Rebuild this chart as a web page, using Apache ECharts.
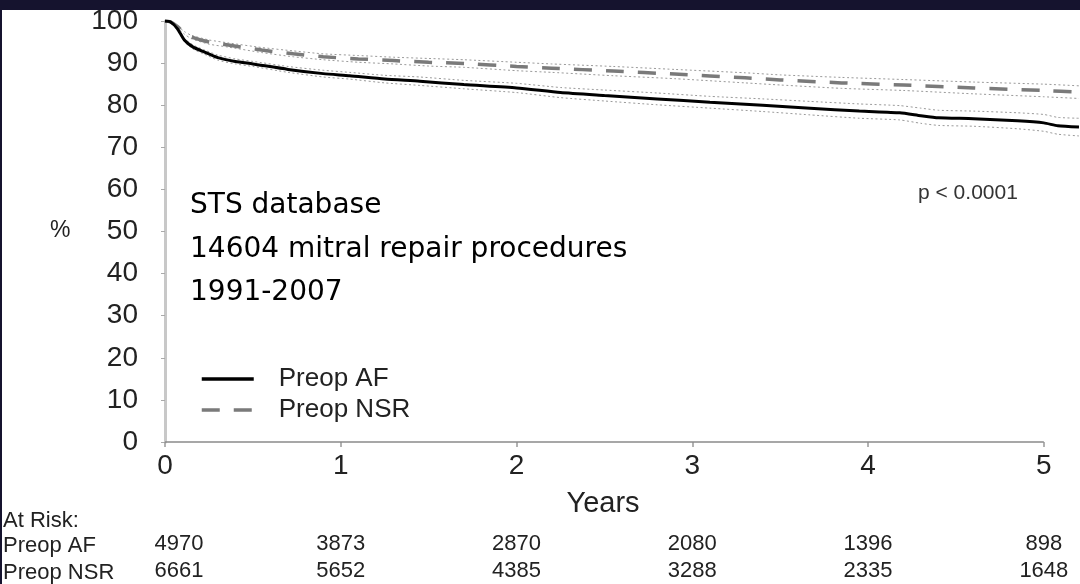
<!DOCTYPE html>
<html><head><meta charset="utf-8">
<script src="https://cdn.jsdelivr.net/npm/echarts@6/dist/echarts.min.js"></script>
<style>html,body{margin:0;padding:0;background:#fff}#c{width:1080px;height:584px}</style>
</head><body><div id="c"></div>
<script>
// ---- data ----
const xTicks = [0, 1, 2, 3, 4, 5];
const atRiskAF  = [4970, 3873, 2870, 2080, 1396, 898];
const atRiskNSR = [6661, 5652, 4385, 3288, 2335, 1648];

const afYears = [0, 0.03, 0.07, 0.11, 0.16, 0.22, 0.3, 0.4, 0.5, 0.7, 0.9, 1.05, 1.25, 1.45, 1.7, 2.0, 2.25, 2.5, 2.8, 3.1, 3.4, 3.67, 3.95, 4.18, 4.3, 4.4, 4.6, 4.85, 5.0, 5.08, 5.2];
const afSurv  = [100, 99.8, 98.2, 95.5, 93.8, 92.7, 91.3, 90.4, 89.8, 88.5, 87.5, 87.0, 86.2, 85.7, 84.9, 84.1, 83.0, 82.3, 81.5, 80.7, 80.0, 79.3, 78.6, 78.2, 77.5, 77.0, 76.8, 76.3, 75.8, 75.1, 74.8];
const afUpper = [100, 99.9, 98.5, 95.9, 94.3, 93.2, 91.9, 91.0, 90.4, 89.2, 88.3, 87.8, 87.1, 86.7, 85.9, 85.2, 84.2, 83.6, 82.9, 82.1, 81.5, 80.9, 80.3, 79.9, 79.3, 78.8, 78.6, 78.2, 77.8, 77.1, 76.9];
const afLower = [100, 99.7, 97.9, 95.1, 93.3, 92.2, 90.7, 89.8, 89.2, 87.8, 86.7, 86.2, 85.3, 84.7, 83.9, 83.0, 81.8, 81.0, 80.1, 79.3, 78.5, 77.7, 76.9, 76.5, 75.7, 75.2, 75.0, 74.4, 73.8, 73.1, 72.7];

const nsrYears = [0, 0.03, 0.07, 0.11, 0.15, 0.25, 0.36, 0.55, 0.73, 0.9, 1.1, 1.3, 1.5, 1.7, 2.0, 2.2, 2.55, 2.9, 3.3, 3.5, 3.85, 4.2, 4.6, 5.0, 5.2];
const nsrSurv  = [100, 99.8, 98.7, 97.2, 96.2, 95.0, 94.3, 93.1, 92.2, 91.5, 91.0, 90.6, 90.2, 89.9, 89.2, 88.8, 88.1, 87.4, 86.5, 86.0, 85.3, 84.8, 84.1, 83.5, 83.1];
const nsrUpper = [100, 99.9, 98.9, 97.5, 96.6, 95.5, 94.8, 93.7, 92.9, 92.2, 91.8, 91.4, 91.1, 90.8, 90.2, 89.8, 89.2, 88.5, 87.7, 87.2, 86.6, 86.1, 85.5, 85.0, 84.6];
const nsrLower = [100, 99.7, 98.5, 96.9, 95.8, 94.5, 93.8, 92.5, 91.5, 90.8, 90.2, 89.8, 89.3, 89.0, 88.2, 87.8, 87.0, 86.3, 85.3, 84.8, 84.0, 83.5, 82.7, 82.0, 81.6];

// ---- chart ----
const FONT = '"Liberation Sans", Arial, sans-serif';
const SLIDE = '"DejaVu Sans", Verdana, sans-serif';
const pair = (xs, ys) => xs.map((x, i) => [x, ys[i]]);
const chart = echarts.init(document.getElementById('c'), null, {renderer: 'canvas'});

function riskAxis(values, offset) {
  return {
    type: 'value', min: 0, max: 5.2, position: 'bottom', offset: offset,
    axisLine: {show: false}, axisTick: {show: false}, splitLine: {show: false},
    axisLabel: {
      customValues: xTicks, margin: 0, fontSize: 22, color: '#222', fontFamily: FONT,
      formatter: function (v) {
        const i = xTicks.indexOf(v);
        return i === 0 ? '{a|' + values[i] + '}' : String(values[i]);
      },
      rich: {a: {padding: [0, 0, 0, 28], fontSize: 22, color: '#222', fontFamily: FONT}}
    }
  };
}

const ciStyle = {color: '#9a9a9a', width: 1, type: [2, 2.5]};
const base = {type: 'line', symbol: 'none', smooth: 0.2, silent: true, xAxisIndex: 0, yAxisIndex: 0};

const option = {
  animation: false,
  backgroundColor: '#ffffff',
  grid: {left: 165, right: 1, top: 21, bottom: 142},
  legend: {
    data: ['Preop AF', 'Preop NSR'], orient: 'vertical', left: 200, top: 366,
    itemWidth: 52, itemHeight: 14, itemGap: 5, padding: 0, selectedMode: false,
    itemStyle: {opacity: 0},
    lineStyle: {width: 3.5},
    textStyle: {fontSize: 26, color: '#222', fontFamily: FONT, padding: [0, 0, 0, 20]}
  },
  xAxis: [
    {
      type: 'value', min: 0, max: 5.2, interval: 1,
      axisLine: {show: false},
      axisTick: {show: true, customValues: xTicks, length: 5, lineStyle: {color: '#999', width: 1.5}},
      axisLabel: {customValues: xTicks, fontSize: 28, color: '#222', fontFamily: FONT, margin: 10},
      splitLine: {show: false}
    },
    riskAxis(atRiskAF, 91),
    riskAxis(atRiskNSR, 118)
  ],
  yAxis: {
    type: 'value', min: 0, max: 100, interval: 10,
    axisLine: {show: true, lineStyle: {color: '#c8c8c8', width: 3}},
    axisTick: {show: true, length: 4, lineStyle: {color: '#aaa', width: 1}},
    axisLabel: {fontSize: 28, color: '#222', fontFamily: FONT, margin: 27},
    splitLine: {show: false}
  },
  series: [
    Object.assign({}, base, {name: 'AF upper', data: pair(afYears, afUpper), lineStyle: ciStyle, z: 2}),
    Object.assign({}, base, {name: 'AF lower', data: pair(afYears, afLower), lineStyle: ciStyle, z: 2}),
    Object.assign({}, base, {name: 'NSR upper', data: pair(nsrYears, nsrUpper), lineStyle: ciStyle, z: 2}),
    Object.assign({}, base, {name: 'NSR lower', data: pair(nsrYears, nsrLower), lineStyle: ciStyle, z: 2}),
    Object.assign({}, base, {name: 'Preop NSR', data: pair(nsrYears, nsrSurv), itemStyle: {color: '#7a7a7a'}, lineStyle: {color: '#7a7a7a', width: 3.5, type: [18, 14]}, z: 3}),
    Object.assign({}, base, {name: 'Preop AF', data: pair(afYears, afSurv), itemStyle: {color: '#000'}, lineStyle: {color: '#000', width: 3}, z: 4}),
    {
      type: 'line', name: 'x axis line', symbol: 'none', silent: true, clip: false, z: 1,
      data: [[xTicks[0], 0], [xTicks[xTicks.length - 1], 0]],
      lineStyle: {color: '#8a8a8a', width: 1.5}
    }
  ],
  graphic: [
    {type: 'text', x: 50, y: 231, style: {text: '%', font: '23px ' + FONT, fill: '#222', verticalAlign: 'middle'}},
    {type: 'text', x: 190, y: 206, style: {text: 'STS database', font: '28px ' + SLIDE, fill: '#000', verticalAlign: 'middle'}},
    {type: 'text', x: 190, y: 250, style: {text: '14604 mitral repair procedures', font: '28px ' + SLIDE, fill: '#000', verticalAlign: 'middle'}},
    {type: 'text', x: 190, y: 293, style: {text: '1991-2007', font: '28px ' + SLIDE, fill: '#000', verticalAlign: 'middle'}},
    {type: 'text', x: 918, y: 193, style: {text: 'p < 0.0001', font: '21px ' + FONT, fill: '#333', verticalAlign: 'middle'}},
    {type: 'text', x: 603, y: 504, style: {text: 'Years', font: '29px ' + FONT, fill: '#222', align: 'center', verticalAlign: 'middle'}},
    {type: 'text', x: 3, y: 521, style: {text: 'At Risk:', font: '22px ' + FONT, fill: '#222', verticalAlign: 'middle'}},
    {type: 'text', x: 3, y: 546, style: {text: 'Preop AF', font: '22px ' + FONT, fill: '#222', verticalAlign: 'middle'}},
    {type: 'text', x: 3, y: 573, style: {text: 'Preop NSR', font: '22px ' + FONT, fill: '#222', verticalAlign: 'middle'}},
    {type: 'rect', shape: {x: 0, y: 0, width: 1080, height: 10}, style: {fill: '#15132e'}, z: 100},
    {type: 'rect', shape: {x: 0, y: 0, width: 2, height: 584}, style: {fill: '#15132e'}, z: 100}
  ]
};
chart.setOption(option);
</script>
</body></html>
